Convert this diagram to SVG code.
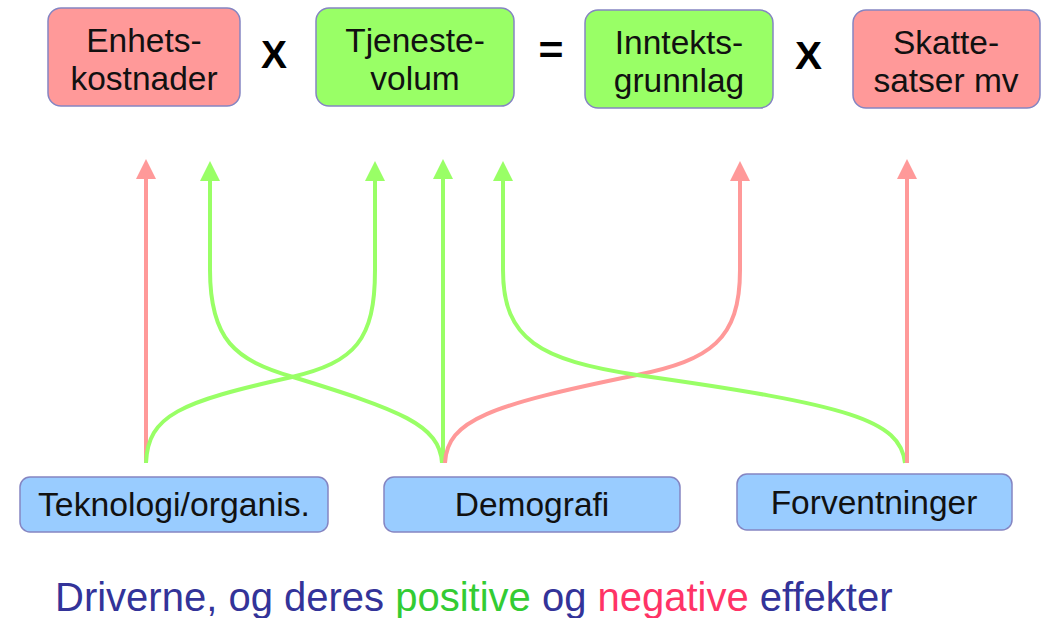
<svg xmlns="http://www.w3.org/2000/svg" width="1046" height="618" viewBox="0 0 1046 618">
  <style>
    .box { stroke: #8585c2; stroke-width: 1.5; }
    .red { fill: #ff9999; }
    .green { fill: #99ff66; }
    .blue { fill: #99ccff; }
    .lbl { font-family: "Liberation Sans", Arial, sans-serif; font-size: 33.5px; fill: #111111; text-anchor: middle; }
    .op { font-family: "Liberation Sans", Arial, sans-serif; font-weight: bold; fill: #000000; text-anchor: middle; }
    .cap { font-family: "Liberation Sans", Arial, sans-serif; font-size: 40px; }
    .ar { fill: none; stroke-width: 4; }
    .ar-r { stroke: #ff9999; marker-end: url(#headR); }
    .ar-g { stroke: #99ff66; marker-end: url(#headG); }
  </style>
  <defs>
    <marker id="headR" markerUnits="userSpaceOnUse" markerWidth="20" markerHeight="20" viewBox="0 0 20 20" refX="1" refY="10" orient="auto">
      <path d="M0,0 L20,10 L0,20 z" fill="#ff9999"/>
    </marker>
    <marker id="headG" markerUnits="userSpaceOnUse" markerWidth="20" markerHeight="20" viewBox="0 0 20 20" refX="1" refY="10" orient="auto">
      <path d="M0,0 L20,10 L0,20 z" fill="#99ff66"/>
    </marker>
  </defs>
  <rect width="1046" height="618" fill="#ffffff"/>

  <g id="connectors">
    <path class="ar ar-r" d="M146,463 L146,178"/>
    <path class="ar ar-g" d="M146,463 C148,415 180,402 292,377 C355,362 375,340 375,270 L375,180"/>
    <path class="ar ar-g" d="M442,463 C440,425 400,410 293,377 C235,360 210,340 210,270 L210,180"/>
    <path class="ar ar-g" d="M443,463 L443,178"/>
    <path class="ar ar-r" d="M445,463 C447,420 490,405 637,375 C710,360 740,340 740,270 L740,180"/>
    <path class="ar ar-g" d="M905,463 C900,420 850,405 637,375 C540,360 503,340 503,270 L503,180"/>
    <path class="ar ar-r" d="M907,463 L907,178"/>
  </g>

  <g id="enhetskostnader">
    <rect class="box red" x="48" y="8" width="192" height="98" rx="13"/>
    <text class="lbl" x="144" y="52">Enhets-</text>
    <text class="lbl" x="144" y="90">kostnader</text>
  </g>
  <g id="op-x1">
    <text class="op" x="274" y="68" font-size="38" textLength="26" lengthAdjust="spacingAndGlyphs">X</text>
  </g>
  <g id="tjenestevolum">
    <rect class="box green" x="316" y="8" width="198" height="98" rx="13"/>
    <text class="lbl" x="415" y="52">Tjeneste-</text>
    <text class="lbl" x="415" y="90">volum</text>
  </g>
  <g id="op-eq">
    <text class="op" x="551" y="63" font-size="38" textLength="25" lengthAdjust="spacingAndGlyphs">=</text>
  </g>
  <g id="inntektsgrunnlag">
    <rect class="box green" x="585" y="10" width="188" height="98" rx="13"/>
    <text class="lbl" x="679" y="54">Inntekts-</text>
    <text class="lbl" x="679" y="92">grunnlag</text>
  </g>
  <g id="op-x2">
    <text class="op" x="808.5" y="69" font-size="39" textLength="27" lengthAdjust="spacingAndGlyphs">X</text>
  </g>
  <g id="skattesatser">
    <rect class="box red" x="853" y="10" width="187" height="98" rx="13"/>
    <text class="lbl" x="946" y="54">Skatte-</text>
    <text class="lbl" x="946" y="92">satser mv</text>
  </g>

  <g id="teknologi">
    <rect class="box blue" x="20" y="477" width="308" height="55" rx="10"/>
    <text class="lbl" x="174" y="516" textLength="272" lengthAdjust="spacingAndGlyphs">Teknologi/organis.</text>
  </g>
  <g id="demografi">
    <rect class="box blue" x="384" y="477" width="296" height="55" rx="10"/>
    <text class="lbl" x="532" y="516">Demografi</text>
  </g>
  <g id="forventninger">
    <rect class="box blue" x="737" y="474" width="275" height="56" rx="10"/>
    <text class="lbl" x="874" y="514">Forventninger</text>
  </g>

  <text class="cap" x="55" y="611"><tspan fill="#333399">Driverne, og deres </tspan><tspan fill="#33cc33">positive</tspan><tspan fill="#333399"> og </tspan><tspan fill="#ff3366">negative</tspan><tspan fill="#333399"> effekter</tspan></text>
</svg>
